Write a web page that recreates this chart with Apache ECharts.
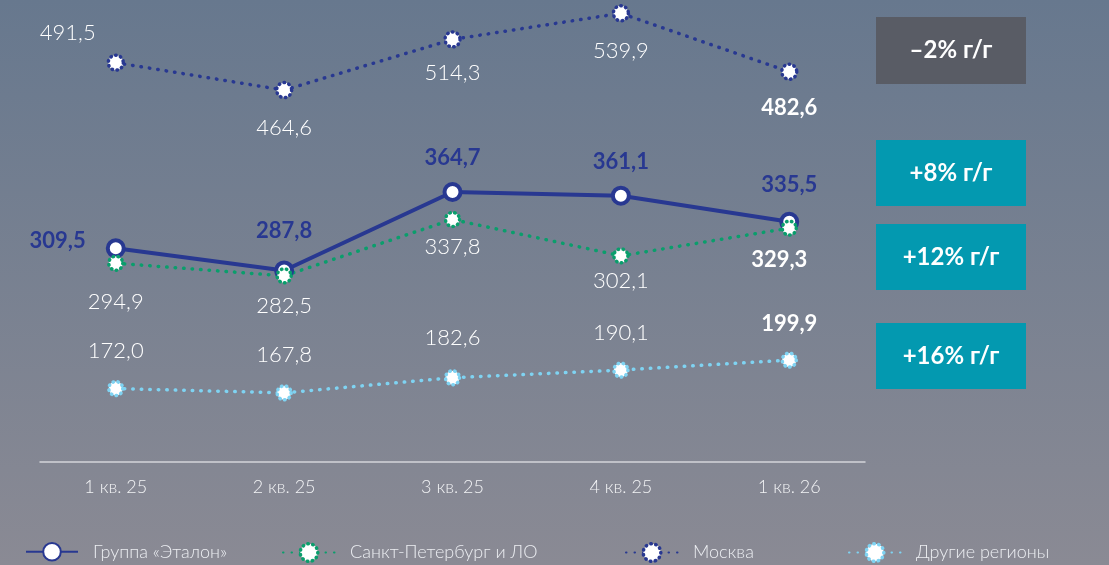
<!DOCTYPE html>
<html>
<head>
<meta charset="utf-8">
<script src="https://cdn.jsdelivr.net/npm/echarts@6/dist/echarts.min.js"></script>
<style>
  html, body { margin: 0; padding: 0; }
  #chart { width: 1109px; height: 565px; }
</style>
</head>
<body>
<div id="chart"></div>
<script>
// Quarterly values by segment
const quarters = ['1 кв. 25', '2 кв. 25', '3 кв. 25', '4 кв. 25', '1 кв. 26'];
const groupVals = [309.5, 287.8, 364.7, 361.1, 335.5];
const spbVals = [294.9, 282.5, 337.8, 302.1, 329.3];
const moscowVals = [491.5, 464.6, 514.3, 539.9, 482.6];
const otherVals = [172.0, 167.8, 182.6, 190.1, 199.9];
const growthBadges = ['–2% г/г', '+8% г/г', '+12% г/г', '+16% г/г'];

const FONT = 'Lato, "Noto Sans", sans-serif';
const DARK_BLUE = '#283891';
const GREEN = '#0a9e6c';
const LIGHT_BLUE = '#7fd3f2';
const DOTS = [0.5, 4.5];

// Label placement per point: [position, distance, offsetX, offsetY, bold]
const moscowLbl = [['top', 8, -48, -2, false], ['bottom', 18, 0, 0, false], ['bottom', 13, 0, 0, false], ['bottom', 17, 0, 0, false], ['bottom', 16, 0, 0, true]];
const groupLbl = [['left', 20, 0, -7, true], ['top', 19, 0, 0, true], ['top', 13, 0, 0, true], ['top', 13, 0, 0, true], ['top', 16, 0, 0, true]];
const spbLbl = [['bottom', 19, 0, 0, false], ['bottom', 10, 0, 0, false], ['bottom', 8, 0, 0, false], ['bottom', 5, 0, 0, false], ['bottom', 12, -10, 0, true]];
const otherLbl = [['top', 18, 0, 0, false], ['top', 18, 0, 0, false], ['top', 20, 0, 0, false], ['top', 17, 0, 0, false], ['top', 16, 0, 0, true]];

function fmt(v) { return v.toFixed(1).replace('.', ','); }

function buildData(vals, lbls, color) {
  return vals.map((v, i) => {
    const l = lbls[i];
    return {
      value: [i, v],
      label: {
        position: l[0], distance: l[1], offset: [l[2], l[3]],
        fontWeight: l[4] ? 'bold' : 300,
        color: color
      }
    };
  });
}

function dottedSeries(name, vals, lbls, color, labelColor, size) {
  return {
    name: name, type: 'line',
    data: buildData(vals, lbls, labelColor),
    symbol: 'circle', symbolSize: size,
    lineStyle: { color: color, width: 3.5, type: [0.5, 8], cap: 'round' },
    itemStyle: { color: '#ffffff', borderColor: color, borderWidth: 3.5, borderType: DOTS, borderCap: 'round' },
    label: { show: true, fontSize: 22, fontFamily: FONT, formatter: p => fmt(p.value[1]) }
  };
}

const series = [
  dottedSeries('Москва', moscowVals, moscowLbl, DARK_BLUE, '#ffffff', 15),
  dottedSeries('Другие регионы', otherVals, otherLbl, LIGHT_BLUE, '#ffffff', 14),
  {
    name: 'Группа «Эталон»', type: 'line',
    data: buildData(groupVals, groupLbl, DARK_BLUE),
    symbol: 'circle', symbolSize: 16,
    lineStyle: { color: DARK_BLUE, width: 4 },
    itemStyle: { color: '#ffffff', borderColor: DARK_BLUE, borderWidth: 4 },
    label: { show: true, fontSize: 22, fontFamily: FONT, formatter: p => fmt(p.value[1]) }
  },
  dottedSeries('Санкт-Петербург и ЛО', spbVals, spbLbl, GREEN, '#ffffff', 14)
];

// Growth badges on the right
const badgeBoxes = [
  { y: 17, h: 67, color: '#595c65' },
  { y: 140, h: 66, color: '#0399b0' },
  { y: 224, h: 66, color: '#0399b0' },
  { y: 323, h: 66, color: '#0399b0' }
];
const graphics = badgeBoxes.map((b, i) => ({
  type: 'group', left: 876, top: b.y,
  children: [
    { type: 'rect', shape: { x: 0, y: 0, width: 150, height: b.h }, style: { fill: b.color } },
    { type: 'text', x: 75, y: b.h / 2, style: { text: growthBadges[i], fill: '#ffffff', font: 'bold 24px ' + FONT, align: 'center', verticalAlign: 'middle' } }
  ]
}));

function legendAt(name, left, dotted) {
  const item = { name: name };
  if (dotted) item.itemStyle = { borderType: DOTS, borderCap: 'round', borderWidth: 3.5 };
  return {
    data: [item], left: left, top: 537, itemWidth: 52, itemHeight: 22,
    textStyle: { color: '#eceef2', fontSize: 18, fontWeight: 300, fontFamily: FONT, padding: [0, 0, 0, 10] },
    selectedMode: false
  };
}

const chart = echarts.init(document.getElementById('chart'));
chart.setOption({
  animation: false,
  backgroundColor: {
    type: 'linear', x: 0, y: 0, x2: 0, y2: 1,
    colorStops: [{ offset: 0, color: '#67788e' }, { offset: 1, color: '#8a8a94' }]
  },
  grid: { left: 40, right: 244, top: 3, bottom: 103 },
  xAxis: {
    type: 'value', min: -0.45, max: 4.45,
    splitLine: { show: false },
    axisTick: { show: false },
    axisLine: { show: true, lineStyle: { color: '#d3d5da', width: 1.5 } },
    axisLabel: {
      customValues: [0, 1, 2, 3, 4], margin: 16,
      color: '#f2f3f5', fontSize: 18, fontWeight: 300, fontFamily: FONT,
      formatter: v => quarters[Math.round(v)]
    }
  },
  yAxis: { type: 'value', min: 100, max: 550, show: false },
  legend: [
    legendAt('Группа «Эталон»', 20, false),
    legendAt('Санкт-Петербург и ЛО', 277, true),
    legendAt('Москва', 620, true),
    legendAt('Другие регионы', 843, true)
  ],
  graphic: graphics,
  series: series
});
</script>
</body>
</html>
